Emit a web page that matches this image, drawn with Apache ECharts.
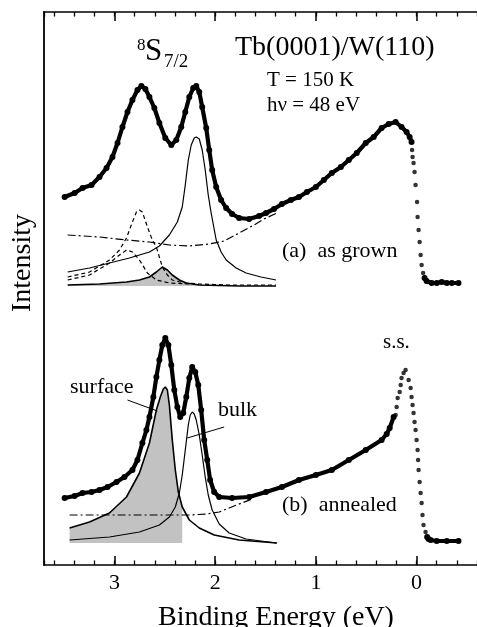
<!DOCTYPE html>
<html><head><meta charset="utf-8">
<script src="https://cdn.jsdelivr.net/npm/echarts@6/dist/echarts.min.js"></script>
<style>html,body{margin:0;padding:0;background:#fff}#c{width:477px;height:627px}</style>
</head><body><div id="c"></div>
<script>
// ---- data: [binding energy (eV), intensity (arb. units)] ----
const majorTicks = [0, 1, 2, 3];
// (a) as grown
const specA = [[3.495,368],[3.396,372],[3.317,377],[3.228,380],[3.149,388],[3.079,397],[3.020,408],[2.970,422],[2.921,438],[2.871,453],[2.822,465],[2.772,475],[2.733,479],[2.693,476],[2.653,468],[2.604,457],[2.554,442],[2.495,427],[2.436,420],[2.386,425],[2.337,438],[2.297,453],[2.257,468],[2.218,477],[2.188,479],[2.158,473],[2.129,458],[2.089,437],[2.059,415],[2.030,395],[1.990,378],[1.941,365],[1.891,357],[1.832,351],[1.762,347],[1.663,346],[1.564,349],[1.495,352],[1.416,356],[1.337,361],[1.248,365],[1.168,368],[1.089,373],[1.000,378],[0.921,385],[0.842,392],[0.752,398],[0.673,405],[0.594,412],[0.505,422],[0.426,428],[0.347,437],[0.277,441],[0.208,443],[0.149,438],[0.099,433],[0.069,428],[0.050,423]];
const edgeA = [[0.045,415],[0.040,408],[0.030,402],[0.020,393],[0.010,380],[-0.005,363],[-0.010,348],[-0.020,335],[-0.030,323],[-0.040,310],[-0.050,300],[-0.065,292]];
const tailA = [[-0.079,287],[-0.099,284],[-0.150,282],[-0.200,282],[-0.250,283],[-0.300,282],[-0.350,282],[-0.416,282]];
const bulkA = [[3.465,293],[3.248,297],[3.050,302],[2.851,307],[2.653,313],[2.554,319],[2.455,330],[2.376,343],[2.327,358],[2.297,380],[2.267,405],[2.238,420],[2.208,427],[2.188,428],[2.158,426],[2.129,415],[2.099,395],[2.069,370],[2.040,352],[1.990,325],[1.941,313],[1.891,305],[1.792,297],[1.693,292],[1.545,288],[1.396,285]];
const dashA1 = [[3.465,288],[3.248,293],[3.050,305],[2.950,315],[2.881,327],[2.822,343],[2.782,353],[2.752,355],[2.723,353],[2.673,338],[2.624,325],[2.584,318],[2.525,298],[2.475,290],[2.426,285],[2.307,282],[2.158,281],[1.861,280],[1.396,280]];
const dashA2 = [[3.465,285],[3.248,290],[3.050,302],[2.950,310],[2.881,315],[2.822,313],[2.752,305],[2.673,292],[2.584,285],[2.455,282],[2.257,281]];
const shadedA = [[3.465,280],[3.149,281],[2.881,283],[2.752,285],[2.653,288],[2.584,293],[2.525,298],[2.475,295],[2.426,290],[2.356,285],[2.287,282],[2.158,280],[1.762,279],[1.396,279]];
const bgA = [[3.465,330],[3.149,328],[2.881,325],[2.653,323],[2.455,320],[2.257,319],[2.059,321],[1.911,324],[1.762,332],[1.614,340],[1.515,346],[1.386,352]];
const baseA = 279;
// (b) annealed
const specB = [[3.495,67],[3.396,69],[3.317,72],[3.228,73],[3.149,75],[3.069,78],[2.980,83],[2.901,88],[2.822,95],[2.772,105],[2.723,122],[2.683,135],[2.653,148],[2.614,168],[2.584,188],[2.554,205],[2.525,220],[2.495,227],[2.465,220],[2.436,200],[2.406,175],[2.376,158],[2.347,148],[2.317,152],[2.287,168],[2.257,187],[2.228,198],[2.198,193],[2.168,180],[2.139,155],[2.109,125],[2.079,105],[2.050,85],[2.010,73],[1.960,68],[1.832,67],[1.663,68],[1.495,73],[1.337,78],[1.168,85],[1.000,90],[0.842,95],[0.673,105],[0.505,115],[0.347,125],[0.297,131],[0.267,137],[0.228,148]];
const ssB = [[0.208,150],[0.198,158],[0.188,167],[0.168,173],[0.158,180],[0.149,187],[0.129,192],[0.109,195],[0.079,185],[0.059,177],[0.050,168],[0.040,160],[0.030,152],[0.020,143],[0.010,135],[0.000,125],[-0.010,115],[-0.015,105],[-0.020,95],[-0.030,83],[-0.040,72],[-0.050,62],[-0.059,50],[-0.069,40],[-0.089,33]];
const tailB = [[-0.105,28],[-0.119,26],[-0.139,25],[-0.200,24],[-0.300,24],[-0.416,24]];
const surfB = [[3.446,37],[3.248,43],[3.050,52],[2.881,68],[2.752,92],[2.653,122],[2.584,155],[2.545,168],[2.515,176],[2.495,178],[2.475,175],[2.455,160],[2.426,125],[2.396,95],[2.366,73],[2.327,58],[2.257,45],[2.158,37],[2.010,30],[1.762,25],[1.386,22]];
const surfFillEnd = 2.327;
const bulkB = [[3.446,25],[3.050,28],[2.752,33],[2.554,40],[2.455,48],[2.396,58],[2.356,72],[2.327,90],[2.297,115],[2.267,140],[2.248,150],[2.228,153],[2.208,151],[2.188,145],[2.158,130],[2.129,110],[2.099,88],[2.069,70],[2.030,55],[1.960,41],[1.861,32],[1.693,26],[1.396,22]];
const bgB = [[3.446,50],[3.149,50],[2.851,50],[2.554,50],[2.257,50],[2.089,51],[1.960,53],[1.812,59],[1.634,66]];
const baseB = 22;
const leaderSurf = [[2.871,165],[2.574,154]];
const leaderBulk = [[1.911,138],[2.277,127]];

const FONT = '"Liberation Serif","Times New Roman",serif';
const chart = echarts.init(document.getElementById('c'), null, {renderer:'canvas'});
const G = {left:44, top:12, width:434, height:553};
const xBase = {type:'value', min:-0.6, max:3.7, inverse:true, splitLine:{show:false}};
function fit(data, opt) {
  return Object.assign({type:'line', data, symbol:'none', silent:true, z:3,
    lineStyle:{color:'#000', width:1.2}}, opt || {});
}
function spec(data) {
  return {type:'line', data, symbol:'circle', symbolSize:6, showAllSymbol:true, z:6,
    itemStyle:{color:'#000'}, lineStyle:{color:'#000', width:4.2}};
}
function dots(data) {
  return {type:'scatter', data, symbolSize:4.5, z:6, itemStyle:{color:'#000'}};
}
const dashdot = {color:'#000', width:1.2, type:[8,3,2,3]};
const dashed = {color:'#000', width:1.2, type:[4,3]};

const txt = (text, x, y, size, extra) => Object.assign({type:'text', x, y, silent:true,
  style:{text, fill:'#000', font: size + 'px ' + FONT, fontSize:size, fontFamily:FONT,
    textVerticalAlign:'middle', verticalAlign:'middle', textAlign:'left', align:'left'}}, extra || {});
const ctxt = (text, x, y, size, extra) => {
  const t = txt(text, x, y, size, extra);
  t.style.textAlign = 'center'; t.style.align = 'center';
  return t;
};

chart.setOption({
  animation:false,
  grid:[Object.assign({}, G), Object.assign({}, G)],
  xAxis:[
    Object.assign({}, xBase, {gridIndex:0, position:'bottom', interval:0.2,
      axisLine:{onZero:false, lineStyle:{color:'#000', width:1.5}},
      axisTick:{inside:true, length:4.5, lineStyle:{color:'#000', width:1.3}},
      axisLabel:{customValues:majorTicks, color:'#000', fontFamily:FONT, fontSize:22, margin:7,
        formatter: v => String(Math.round(v))}}),
    Object.assign({}, xBase, {gridIndex:0, position:'top', interval:0.2,
      axisLine:{onZero:false, lineStyle:{color:'#000', width:1.5}},
      axisTick:{inside:true, length:4.5, lineStyle:{color:'#000', width:1.3}},
      axisLabel:{show:false}}),
    Object.assign({}, xBase, {gridIndex:1, position:'bottom',
      axisLine:{show:false, onZero:false},
      axisTick:{inside:true, length:9, customValues:majorTicks, lineStyle:{color:'#000', width:1.5}},
      axisLabel:{show:false}}),
    Object.assign({}, xBase, {gridIndex:1, position:'top',
      axisLine:{show:false, onZero:false},
      axisTick:{inside:true, length:9, customValues:majorTicks, lineStyle:{color:'#000', width:1.5}},
      axisLabel:{show:false}})
  ],
  yAxis:[
    {type:'value', gridIndex:0, min:0, max:553, splitLine:{show:false},
      axisLine:{show:true, onZero:false, lineStyle:{color:'#000', width:1.8}}, axisTick:{show:false}, axisLabel:{show:false}},
    {type:'value', gridIndex:1, min:0, max:553, show:false, axisLine:{show:false, onZero:false}}
  ],
  series:[
    fit(shadedA, {areaStyle:{color:'#c2c2c2', opacity:1, origin:baseA}, lineStyle:{width:0}, z:1}),
    fit(surfB.filter(p => p[0] >= surfFillEnd), {areaStyle:{color:'#c2c2c2', opacity:1, origin:baseB}, lineStyle:{width:0}, z:1}),
    fit(bgA, {lineStyle:dashdot}),
    fit(dashA1, {lineStyle:dashed}),
    fit(dashA2, {lineStyle:dashed}),
    fit(bulkA),
    fit(shadedA, {lineStyle:{color:'#000', width:1.6}}),
    fit(bgB, {lineStyle:dashdot}),
    fit(surfB, {lineStyle:{color:'#000', width:1.6}}),
    fit(bulkB),
    fit(leaderSurf, {lineStyle:{color:'#000', width:1}}),
    fit(leaderBulk, {lineStyle:{color:'#000', width:1}}),
    spec(specA), dots(edgeA), spec(tailA),
    spec(specB), dots(ssB), spec(tailB)
  ],
  graphic:[
    txt('Tb(0001)/W(110)', 235, 47.5, 28),
    txt('8', 137, 46, 17),
    txt('S', 145, 51.5, 31),
    txt('7/2', 164, 62.5, 19),
    txt('T = 150 K', 267, 80.5, 21),
    txt('h\u03bd = 48 eV', 267, 105.5, 21),
    txt('(a)  as grown', 282, 251, 22),
    txt('(b)  annealed', 282, 505.5, 22),
    txt('surface', 70, 387.5, 22),
    txt('bulk', 218, 410.5, 22),
    txt('s.s.', 383, 342.5, 21),
    ctxt('Binding Energy (eV)', 276, 617.5, 28),
    ctxt('Intensity', 22.5, 263, 28, {rotation: Math.PI/2})
  ]
});
</script></body></html>
